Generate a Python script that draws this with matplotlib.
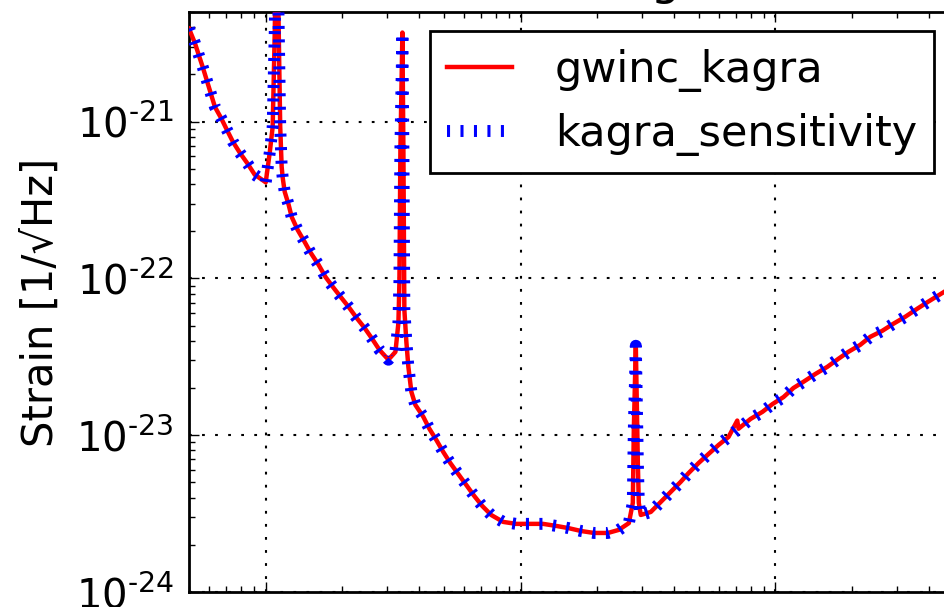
import numpy as np
import matplotlib
matplotlib.use('Agg')
import matplotlib.pyplot as plt
from matplotlib.ticker import FuncFormatter

# values (frequency in Hz, strain in 1/sqrt(Hz))
freq_hz = [5.0, 5.27, 5.47, 5.67, 5.88, 6.09, 6.32, 6.67, 7.04, 7.43, 7.91, 8.50, 9.06, 9.6, 10.0,
           10.37, 10.65, 10.85, 11.05, 11.25, 11.40, 11.55, 11.66, 11.87, 12.30, 12.64, 13.34, 14.21,
           15.00, 16.13, 17.17, 18.46, 19.66, 21.13, 22.71, 24.41, 26.00, 27.94, 30.30, 32.28,
           33.16, 33.46, 33.76, 34.38, 34.69, 34.99, 35.63, 36.28, 37.28, 38.65, 41.53, 43.85,
           46.70, 49.75, 52.98, 56.93, 61.19, 65.77, 70.70, 76.65, 85.42, 96.0, 108.0, 122.5,
           137.7, 153.4, 172.6, 194.0, 220.0, 242.9, 265.9, 275.6, 278.1, 283.2, 288.4, 290.9,
           296.2, 324.2, 354.6, 388.2, 424.8, 456.4, 499.5, 546.7, 598.3, 654.6, 716.4, 798.4,
           889.5, 973.4, 1075, 1176, 1287, 1435, 1598, 1765, 1931, 2151, 2354, 2623, 2896, 3228,
           3596, 3971, 4585, 5000]
strain_kagra = [3.92e-21, 3.18e-21, 2.64e-21, 2.21e-21, 1.82e-21, 1.51e-21, 1.24e-21, 1.06e-21,
                8.87e-22, 7.45e-22, 6.34e-22, 5.38e-22, 4.58e-22, 4.3e-22, 4.10e-22,
                6.34e-22, 9.27e-22, 3.69e-21, 3.0e-20, 3.69e-21, 9.27e-22, 5.15e-22, 4.38e-22,
                3.57e-22, 2.95e-22, 2.47e-22, 2.04e-22, 1.71e-22, 1.46e-22, 1.22e-22, 1.02e-22,
                8.71e-23, 7.64e-23, 6.59e-23, 5.61e-23, 4.84e-23, 4.18e-23, 3.50e-23, 3.03e-23,
                3.40e-23, 5.21e-23, 9.38e-23, 6.63e-22, 3.70e-21, 6.63e-22, 6.31e-23, 3.94e-23,
                2.73e-23, 1.89e-23, 1.56e-23, 1.31e-23, 1.10e-23, 9.33e-24, 7.81e-24, 6.65e-24,
                5.66e-24, 4.82e-24, 4.10e-24, 3.54e-24, 3.10e-24, 2.80e-24, 2.72e-24, 2.72e-24,
                2.72e-24, 2.64e-24, 2.56e-24, 2.45e-24, 2.38e-24, 2.38e-24, 2.49e-24, 2.75e-24,
                3.70e-24, 1.08e-23, 3.72e-23, 6.65e-24, 3.70e-24, 3.10e-24, 3.24e-24, 3.75e-24,
                4.35e-24, 5.04e-24, 5.74e-24, 6.65e-24, 7.60e-24, 8.67e-24, 9.75e-24, 1.10e-23,
                1.27e-23, 1.41e-23, 1.58e-23, 1.75e-23, 2.00e-23, 2.19e-23, 2.46e-23, 2.73e-23,
                3.07e-23, 3.40e-23, 3.77e-23, 4.24e-23, 4.63e-23, 5.13e-23, 5.69e-23, 6.40e-23,
                7.10e-23, 8.20e-23, 8.97e-23]
# small glitch only present in the gwinc curve
glitch_freq = 708.0
glitch_strain = 1.24e-23

plt.rcParams['font.size'] = 28
plt.rcParams['axes.unicode_minus'] = False
plt.rcParams['lines.scale_dashes'] = False

idx = np.searchsorted(freq_hz, glitch_freq)
freq_gwinc = np.insert(np.array(freq_hz), idx, glitch_freq)
strain_gwinc = np.insert(np.array(strain_kagra), idx, glitch_strain)

fig = plt.figure(figsize=(9.44, 6.07), dpi=100)
ax = fig.add_axes([0.2002, 0.0247, 0.8100, 0.9555])

ax.loglog(freq_gwinc, strain_gwinc, color='red', lw=3.2, label='gwinc_kagra', zorder=3)
ax.loglog(freq_hz, strain_kagra, color='blue', lw=8.6, dashes=(2.2, 7.5),
          label='kagra_sensitivity', zorder=4)

ax.set_xlim(5, 5000)
ax.set_ylim(1e-24, 5e-21)
ax.grid(True, which='major', color='k', linestyle=(0, (2, 7.4)), lw=1.5)


def pow10(v, pos):
    e = int(round(np.log10(v)))
    return r'$10^{\text{%d}}$' % e


ax.yaxis.set_major_formatter(FuncFormatter(pow10))

# the frequency labels fall below the visible crop, as in the reference
ax.tick_params(which='both', direction='in', top=True, right=True, width=1, labelbottom=False)
ax.tick_params(which='major', length=7)
ax.tick_params(which='minor', length=4)
ax.tick_params(axis='y', labelsize=29, pad=11)
for s in ax.spines.values():
    s.set_linewidth(2)

ax.set_ylabel('Strain [1/\u221aHz]', fontsize=30, labelpad=10)
ax.set_title('Noise Budget', pad=13)

leg = ax.legend(loc='upper right', fancybox=False, fontsize=31, framealpha=1,
                handlelength=1.5, handletextpad=1.0, borderaxespad=0.45)
leg.get_frame().set_edgecolor('k')
leg.get_frame().set_linewidth(2)

fig.savefig('out.png', dpi=100)
